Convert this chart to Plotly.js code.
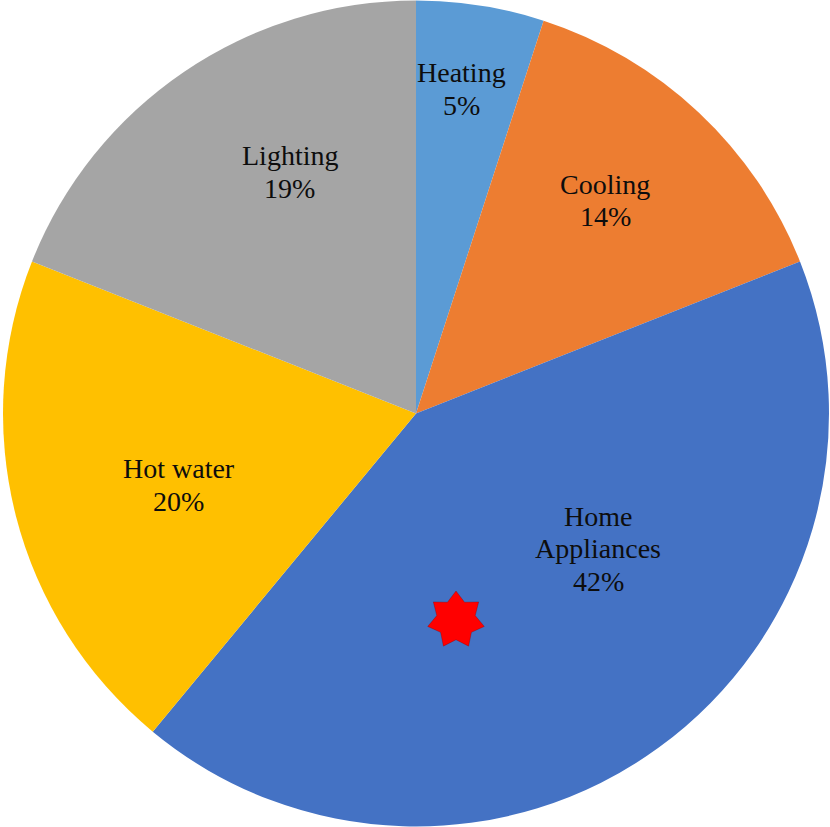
<!DOCTYPE html>
<html>
<head>
<meta charset="utf-8">
<script src="https://cdn.plot.ly/plotly-3.0.1.min.js"></script>
<style>html,body{margin:0;padding:0;background:#fff;}#chart{width:830px;height:827px;}</style>
</head>
<body>
<div id="chart"></div>
<script>
// ---- data ----
var categories = ["Heating", "Cooling", "Home Appliances", "Hot water", "Lighting"];
var labelLines = [["Heating"], ["Cooling"], ["Home", "Appliances"], ["Hot water"], ["Lighting"]];
var shares = [5, 14, 42, 20, 19];
var colors = ["#5B9BD5", "#ED7D31", "#4472C4", "#FFC000", "#A5A5A5"];
var starX = [456];
var starY = [620];

// ---- layout config (label placement: angle offset in deg, radius fraction) ----
var W = 830, H = 827;
var pieDomainX = [3 / W, 829 / W];
var cx = 416, cy = 413.5, R = 413;
var labelAngleOffset = [-1, -1.6, -17.4, -2.4, 6.6];
var labelRadius = [0.794, 0.69, 0.55, 0.60, 0.66];
var lineGap = 32.5;
var fontSize = 28;

var total = shares.reduce(function (a, b) { return a + b; }, 0);
var annotations = [];
var cum = 0;
for (var i = 0; i < shares.length; i++) {
  var mid = (cum + shares[i] / 2) / total * 360 + labelAngleOffset[i];
  cum += shares[i];
  var a = mid * Math.PI / 180;
  var px = cx + labelRadius[i] * R * Math.sin(a);
  var py = cy - labelRadius[i] * R * Math.cos(a);
  var lines = labelLines[i].concat([Math.round(shares[i] / total * 100) + "%"]);
  var n = lines.length;
  for (var j = 0; j < n; j++) {
    var off = (j - (n - 1) / 2) * lineGap;
    annotations.push({
      xref: "paper", yref: "paper",
      x: px / W, y: 1 - (py + off) / H,
      text: lines[j], showarrow: false,
      xanchor: "center", yanchor: "middle",
      font: { family: "Liberation Serif", size: fontSize, color: "#0d0d0d" }
    });
  }
}

// star polygon from its center
var starR = 29, starInner = 0.68 * 29, starPts = 7;
var path = "";
for (var k = 0; k < starPts * 2; k++) {
  var r = (k % 2 === 0) ? starR : starInner;
  var ang = k * Math.PI / starPts;
  var X = starX[0] + r * Math.sin(ang);
  var Y = starY[0] - r * Math.cos(ang);
  path += (k === 0 ? "M" : "L") + X.toFixed(2) + "," + Y.toFixed(2);
}
path += "Z";

var data = [
  {
    type: "pie",
    labels: categories,
    values: shares,
    sort: false,
    direction: "clockwise",
    rotation: 0,
    textinfo: "none",
    hoverinfo: "label+percent",
    marker: { colors: colors, line: { width: 0 } },
    domain: { x: pieDomainX, y: [0, 1] },
    showlegend: false
  }
];

var layout = {
  width: W, height: H,
  margin: { l: 0, r: 0, t: 0, b: 0, pad: 0 },
  paper_bgcolor: "#ffffff",
  plot_bgcolor: "rgba(0,0,0,0)",
  showlegend: false,
  xaxis: { range: [0, W], visible: false, fixedrange: true },
  yaxis: { range: [H, 0], visible: false, fixedrange: true },
  shapes: [{
    type: "path", xref: "x", yref: "y", layer: "above",
    path: path, fillcolor: "#FF0000",
    line: { color: "rgba(120,0,0,0.3)", width: 1 }
  }],
  annotations: annotations
};

Plotly.newPlot("chart", data, layout, { displayModeBar: false, staticPlot: true });
</script>
</body>
</html>
